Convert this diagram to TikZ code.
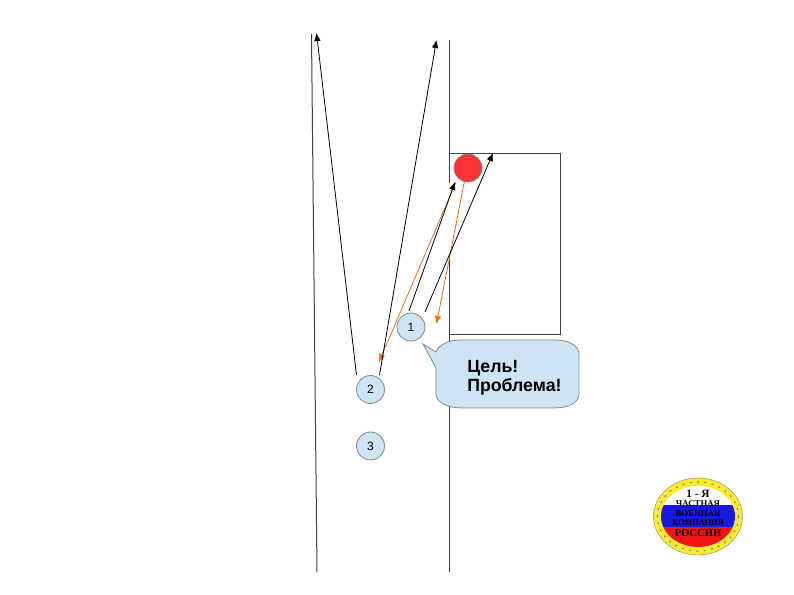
\documentclass[tikz,border=0pt]{standalone}
\usepackage{fontspec}
\setmainfont{Liberation Sans}
\newfontfamily\logofont{Liberation Serif}
\usetikzlibrary{arrows.meta}
\definecolor{nodeblue}{RGB}{207,228,243}
\definecolor{edgegray}{RGB}{125,135,145}
\definecolor{arrorange}{RGB}{235,110,25}
\definecolor{roadred}{RGB}{255,51,51}
\definecolor{logoyellow}{RGB}{250,235,50}
\definecolor{logoblue}{RGB}{25,25,225}
\definecolor{logored}{RGB}{240,20,20}
\tikzset{
  x=0.75pt,y=-0.75pt,
  car/.style={circle,draw=edgegray,fill=nodeblue,line width=.6pt,minimum size=21pt,inner sep=0pt,font=\fontsize{9pt}{10pt}\selectfont},
  road/.style={draw=black!75,line width=.75pt},
  blk/.style={draw=black,line width=.6pt,-{Latex[length=6pt,width=5pt]}},
  org/.style={draw=arrorange,line width=.6pt},
  orgtip/.style={org,-{Latex[length=6pt,width=5pt]}},
  logotext/.style={inner sep=0pt,font=\logofont\bfseries\fontsize{6.6pt}{7pt}\selectfont},
}
\begin{document}
\begin{tikzpicture}
\useasboundingbox (0,0) rectangle (794,595);
\fill[white] (0,0) rectangle (794,595);
% road edges and the yard
\coordinate (la) at (311.5,34);
\coordinate (lb) at (317,572);
\coordinate (ra) at (449.5,40);
\coordinate (rb) at (449.5,183);
\coordinate (rc) at (449.5,255);
\coordinate (rd) at (449.5,572);
\draw[road] (la) -- (lb);
\draw[road] (ra) -- (rb);
\draw[road] (rc) -- (rd);
\draw[road] (449.5,153.5) -- (560.5,153.5) -- (560.5,334.5) -- (449.5,334.5);
% nodes
\node[circle,draw=edgegray,fill=roadred,line width=.6pt,minimum size=21pt,inner sep=0pt] (red) at (468,168) {};
\node[car] (one) at (411,327) {1};
\node[car] (two) at (370.5,389.5) {2};
\node[car] (three) at (370.5,446) {3};
% connector ends
\coordinate (a1) at (356.5,375);
\coordinate (a2) at (316.5,33);
\coordinate (b1) at (379.5,375);
\coordinate (b2) at (436.5,40);
\coordinate (c1) at (409,311);
\coordinate (c2) at (455,182);
\coordinate (d1) at (425,312);
\coordinate (d2) at (493,153);
\coordinate (e1) at (456,182);
\coordinate (e2) at (379,362);
\coordinate (f1) at (464.5,181);
\coordinate (f2) at (436.5,324);
\draw[orgtip] (e1) -- (e2);
\draw[orgtip] (f1) -- (f2);
\draw[blk] (a1) -- (a2);
\draw[blk] (b1) -- (b2);
\draw[blk] (c1) -- (c2);
\draw[blk] (d1) -- (d2);
% callout
\draw[draw=edgegray,fill=nodeblue,line width=.6pt]
  (423,344) -- (436,352) .. controls (439,345) and (447,340) .. (462,340)
  -- (553,340) .. controls (570,340) and (579,346) .. (579,354)
  -- (579,394) .. controls (579,402) and (570,408) .. (553,408)
  -- (462,408) .. controls (447,408) and (436,402) .. (436,394)
  -- (436,368) -- cycle;
\node[inner sep=0pt,anchor=west,align=left,font=\bfseries\fontsize{13.3pt}{14pt}\selectfont] (lbl) at (467,378) {Цель!\\Проблема!};
% emblem
\fill[logoyellow,draw=black!55,line width=.25pt] (698,516.5) ellipse [x radius=44.5,y radius=38.5];
\draw[black!50,line width=.8pt,dash pattern=on 1.5pt off 4pt] (698,516.5) ellipse [x radius=40.5,y radius=34.5];
\fill[white] (698,516.5) ellipse [x radius=37,y radius=30.5];
\begin{scope}
\clip (698,516.5) ellipse [x radius=37,y radius=30.5];
\fill[logoblue] (655,505) rectangle (741,527);
\fill[logored] (655,527) rectangle (741,550);
\end{scope}
\node[logotext,font=\logofont\bfseries\fontsize{8.5pt}{9pt}\selectfont] (t1) at (698,493.5) {1 - Я};
\node[logotext] (t2) at (698,504) {ЧАСТНАЯ};
\node[logotext] (t3) at (698,513.5) {ВОЕННАЯ};
\node[logotext,font=\logofont\bfseries\fontsize{6.2pt}{7pt}\selectfont] (t4) at (698,522.5) {КОМПАНИЯ};
\node[logotext,font=\logofont\bfseries\fontsize{8pt}{8pt}\selectfont] (t5) at (698,533.5) {РОССИИ};
\end{tikzpicture}
\end{document}
